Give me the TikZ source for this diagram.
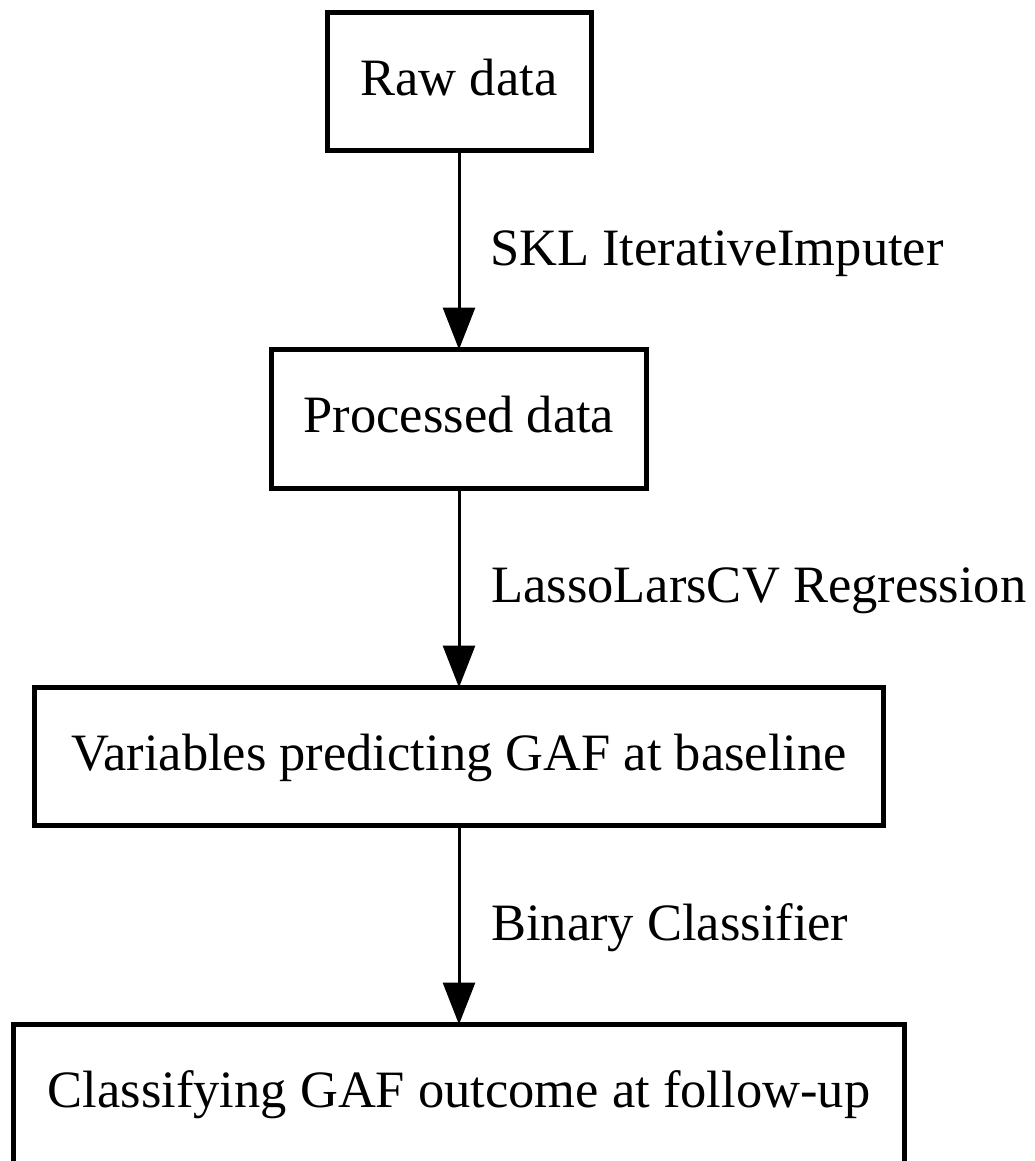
\documentclass[tikz,border=0pt]{standalone}
\usepackage{fontspec}
\setmainfont{Liberation Serif}
\usetikzlibrary{arrows.meta}
\begin{document}
\begin{tikzpicture}[x=1pt,y=-1pt,
  box/.style={draw=black, line width=5pt, rectangle, inner sep=0pt, outer sep=0pt,
    minimum height=138.5pt, text height=38pt, text depth=10pt,
    font=\fontsize{52.5pt}{60pt}\selectfont},
  lbl/.style={anchor=base west, inner sep=0pt, font=\fontsize{52.5pt}{60pt}\selectfont},
  arr/.style={line width=3pt, -{Triangle[length=42pt,width=32pt]}}]
\useasboundingbox (0,0) rectangle (1035,1161);
\node[box, minimum width=264pt] (raw) at (459,81.75) {Raw data};
\node[box, minimum width=375pt] (proc) at (459,418.75) {Processed data};
\node[box, minimum width=849pt, minimum height=138pt] (vars) at (459,756.5) {Variables predicting GAF at baseline};
\node[box, minimum width=891.5pt] (cls) at (459,1093.75) {Classifying GAF outcome at follow-up};
\draw[arr] (raw.south) -- (proc.north);
\draw[arr] (proc.south) -- (vars.north);
\draw[arr] (vars.south) -- (cls.north);
\node[lbl] (l1) at (490,265) {SKL IterativeImputer};
\node[lbl] (l2) at (491,602) {LassoLarsCV Regression};
\node[lbl] (l3) at (491,940) {Binary Classifier};
\end{tikzpicture}
\end{document}
